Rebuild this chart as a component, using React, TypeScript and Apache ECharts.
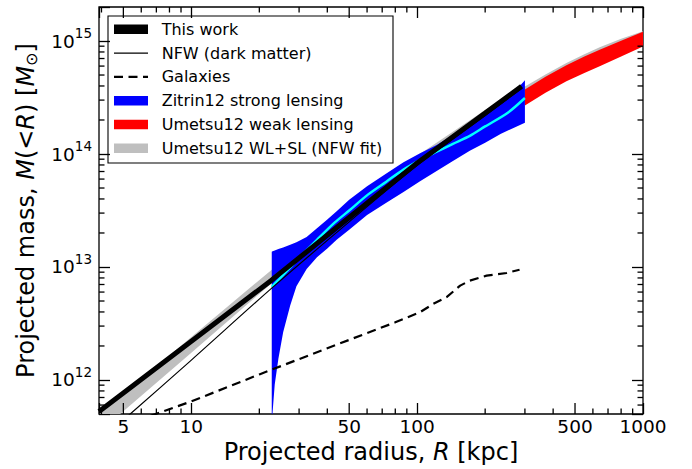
import React, { useEffect, useRef } from 'react';
import * as echarts from 'echarts';

const FONT = "'DejaVu Sans', 'Liberation Sans', sans-serif";

// Axis ranges
const xMin = 3.9;
const xMax = 1000;
const yMin = 5e11;
const yMax = 2e15;

// Tick values and labels (decade ticks are drawn by the axes themselves)
const xMajorTicks = [5, 10, 50, 100, 500, 1000];
const xTickLabels = ['5', '10', '50', '100', '500', '1000'];
const xExtraMajorTicks = [5, 50, 500];
const xMinorTicks = [4, 6, 7, 8, 9, 20, 30, 40, 60, 70, 80, 90, 200, 300, 400, 600, 700, 800, 900];
const yMajorTicks = [1e12, 1e13, 1e14, 1e15];
const yTickExponents = ['12', '13', '14', '15'];
const yMinorTicks = [
  6e11, 7e11, 8e11, 9e11,
  2e12, 3e12, 4e12, 5e12, 6e12, 7e12, 8e12, 9e12,
  2e13, 3e13, 4e13, 5e13, 6e13, 7e13, 8e13, 9e13,
  2e14, 3e14, 4e14, 5e14, 6e14, 7e14, 8e14, 9e14,
];

// "This work" (thick black)
const thisWorkR = [3.9, 5, 10, 22.5, 50, 100, 200, 290];
const thisWorkM = [5.25e11, 7.66e11, 2.2e12, 7.57e12, 2.74e13, 8.32e13, 2.3e14, 3.98e14];

// NFW (dark matter) thin line
const nfwR = [3.9, 5.36, 10, 22.5, 50, 100, 200, 290];
const nfwM = [2.86e11, 5.0e11, 1.5e12, 6.4e12, 2.51e13, 7.94e13, 2.19e14, 3.8e14];

// Galaxies (dashed)
const galR = [6.6, 10, 20, 40, 80, 103, 118, 135, 155, 171, 203, 249, 284];
const galM = [4.82e11, 6.46e11, 1.12e12, 1.91e12, 3.24e12, 3.98e12, 4.72e12, 5.41e12, 6.84e12, 7.57e12, 8.38e12, 8.85e12, 9.46e12];

// Zitrin12 strong lensing: band + central (cyan) curve
const blueR = [22.7, 22.9, 23.4, 24.3, 25.5, 27.4, 29.2, 32.4, 36, 40, 44, 50, 60, 73, 87, 103, 122, 144, 171, 200, 235, 270, 300];
const blueLo = [2e11, 5.2e11, 9.1e11, 1.55e12, 2.65e12, 4.57e12, 6.76e12, 9.6e12, 1.22e13, 1.46e13, 1.74e13, 2.14e13, 2.88e13, 3.7e13, 4.6e13, 5.75e13, 7.08e13, 8.67e13, 1.07e14, 1.26e14, 1.51e14, 1.72e14, 1.89e14];
const blueHi = [1.365e13, 1.38e13, 1.4e13, 1.445e13, 1.486e13, 1.57e13, 1.652e13, 1.84e13, 2.2e13, 2.63e13, 3.12e13, 3.93e13, 5.19e13, 6.71e13, 8.45e13, 1.014e14, 1.2e14, 1.476e14, 1.884e14, 2.31e14, 2.88e14, 3.55e14, 4.5e14];
const cyanR = [22.7, 25, 30.7, 36, 43.2, 50, 60.5, 73, 87, 103, 122, 144, 171, 200, 252, 300];
const cyanM = [6.68e12, 8.13e12, 1.26e13, 1.74e13, 2.48e13, 3.16e13, 4.37e13, 5.69e13, 7.28e13, 8.83e13, 1.047e14, 1.23e14, 1.445e14, 1.754e14, 2.32e14, 3.13e14];

// Umetsu12 weak lensing (red band)
const redR = [300, 370, 458, 550, 643, 800, 1000];
const redLo = [2.69e14, 3.48e14, 4.41e14, 5.22e14, 5.98e14, 7.31e14, 8.93e14];
const redHi = [3.72e14, 4.82e14, 6.11e14, 7.28e14, 8.39e14, 1.005e15, 1.21e15];

// Umetsu12 WL+SL NFW fit (grey band)
const greyR = [3.9, 5, 10, 22.5, 50, 100, 200, 300, 370, 458, 550, 643, 800, 1000];
const greyLo = [3.44e11, 5.3e11, 1.74e12, 7.08e12, 2.63e13, 7.85e13, 2.04e14, 3.29e14, 4.2e14, 5.32e14, 6.34e14, 7.31e14, 8.71e14, 1.014e15];
const greyHi = [4.97e11, 7.48e11, 2.4e12, 9.33e12, 3.31e13, 9.66e13, 2.45e14, 3.95e14, 5.05e14, 6.4e14, 7.62e14, 8.79e14, 1.047e15, 1.219e15];

// Legend
const legendLabels = [
  'This work',
  'NFW (dark matter)',
  'Galaxies',
  'Zitrin12 strong lensing',
  'Umetsu12 weak lensing',
  'Umetsu12 WL+SL (NFW fit)',
];
const legendKinds = ['rect', 'line', 'dash', 'rect', 'rect', 'rect'];
const legendColors = ['#000000', '#000000', '#000000', '#0000ff', '#ff0000', '#bfbfbf'];

// Layout (pixels)
const GRID = { left: 99, right: 49, top: 7, bottom: 54 };
const W = 692;
const H = 469;
const TW = 1.3; // tick thickness
const MAJ = 11;
const MIN = 5.5;

const pairs = (xs: number[], ys: number[]) => xs.map((x, i) => [x, ys[i]]);

function bandSeries(name: string, rs: number[], lo: number[], hi: number[], color: string, z: number) {
  return {
    type: 'custom',
    name,
    z,
    silent: true,
    clip: true,
    data: rs.map((r, i) => [r, lo[i], hi[i]]),
    encode: { x: 0, y: [1, 2] },
    renderItem: (params: any, api: any) => {
      if (params.dataIndex !== 0) return null;
      const top = rs.map((r, i) => api.coord([r, hi[i]]));
      const bot = rs.map((r, i) => api.coord([r, lo[i]])).reverse();
      const cs = params.coordSys;
      return {
        type: 'polygon',
        shape: { points: top.concat(bot) },
        style: { fill: color, stroke: null },
        clipPath: { type: 'rect', shape: { x: cs.x, y: cs.y, width: cs.width, height: cs.height } },
      };
    },
  };
}

// Non-decade tick marks (inward, mirrored on both sides), placed via the axes' scales
function tickSeries(isX: boolean) {
  const data = isX
    ? [...xExtraMajorTicks.map((v) => [v, yMin, 1]), ...xMinorTicks.map((v) => [v, yMin, 0])]
    : yMinorTicks.map((v) => [xMin, v, 0]);
  return {
    type: 'custom',
    name: isX ? 'xticks' : 'yticks',
    z: 20,
    silent: true,
    data,
    renderItem: (params: any, api: any) => {
      const cs = params.coordSys;
      const len = api.value(2) === 1 ? MAJ : MIN;
      const h = TW / 2;
      const children: any[] = [];
      if (isX) {
        const px = api.coord([api.value(0), yMin])[0];
        const b = cs.y + cs.height;
        const t = cs.y;
        children.push({ type: 'rect', shape: { x: px - h, y: b - len, width: TW, height: len }, style: { fill: '#000' } });
        children.push({ type: 'rect', shape: { x: px - h, y: t, width: TW, height: len }, style: { fill: '#000' } });
      } else {
        const py = api.coord([xMin, api.value(1)])[1];
        const l = cs.x;
        const r = cs.x + cs.width;
        children.push({ type: 'rect', shape: { x: l, y: py - h, width: len, height: TW }, style: { fill: '#000' } });
        children.push({ type: 'rect', shape: { x: r - len, y: py - h, width: len, height: TW }, style: { fill: '#000' } });
      }
      return { type: 'group', children };
    },
  };
}

function xLabelSeries() {
  return {
    type: 'custom',
    name: 'xlabels',
    z: 10,
    silent: true,
    data: xMajorTicks.map((v, i) => [v, yMin, i]),
    renderItem: (params: any, api: any) => {
      const cs = params.coordSys;
      const px = api.coord([api.value(0), yMin])[0];
      return {
        type: 'text',
        x: px,
        y: cs.y + cs.height + 12,
        style: {
          text: xTickLabels[api.value(2)],
          fontSize: 18.5,
          fontFamily: FONT,
          fill: '#000',
          align: 'center',
          verticalAlign: 'middle',
        },
      };
    },
  };
}

function yLabelSeries() {
  return {
    type: 'custom',
    name: 'ylabels',
    z: 10,
    silent: true,
    data: yMajorTicks.map((v, i) => [xMin, v, i]),
    renderItem: (params: any, api: any) => {
      const cs = params.coordSys;
      const py = api.coord([xMin, api.value(1)])[1];
      return {
        type: 'text',
        x: cs.x - 7,
        y: py,
        style: {
          text: '{b|10}{s|' + yTickExponents[api.value(2)] + '}',
          align: 'right',
          verticalAlign: 'middle',
          fill: '#000',
          fontFamily: FONT,
          fontSize: 18.5,
          rich: {
            b: { fontSize: 18.5, fontFamily: FONT, fill: '#000', lineHeight: 30 },
            s: { fontSize: 13.5, fontFamily: FONT, fill: '#000', lineHeight: 13, verticalAlign: 'top' },
          },
        },
      };
    },
  };
}

function legendGroup() {
  const legendRowY = [13.3, 37.1, 60.9, 84.7, 108.5, 132.3];
  const children: any[] = [
    {
      type: 'rect',
      shape: { x: 0, y: 0, width: 285, height: 147 },
      style: { fill: '#fff', stroke: '#000', lineWidth: 1.1 },
    },
  ];
  legendLabels.forEach((label, i) => {
    const cy = legendRowY[i];
    const kind = legendKinds[i];
    if (kind === 'rect') {
      children.push({
        type: 'rect',
        shape: { x: 6, y: cy - 4.7, width: 34, height: 9.4 },
        style: { fill: legendColors[i] },
      });
    } else {
      children.push({
        type: 'line',
        shape: { x1: 6, y1: cy, x2: 40, y2: cy },
        style: {
          stroke: legendColors[i],
          lineWidth: kind === 'dash' ? 2.2 : 1.2,
          lineDash: kind === 'dash' ? [9, 5.5] : null,
        },
      });
    }
    children.push({
      type: 'text',
      x: 53.7,
      y: cy,
      style: {
        text: label,
        fontSize: 16,
        fontFamily: FONT,
        fill: '#000',
        align: 'left',
        verticalAlign: 'middle',
      },
    });
  });
  return { id: 'legend', type: 'group', x: 108, y: 16, z: 50, children };
}

const nativeTick = { show: true, inside: true, length: MAJ, lineStyle: { color: '#000', width: TW } };

function buildOption() {
  const hiddenAxisBits = {
    axisLine: { show: false },
    axisLabel: { show: false },
    splitLine: { show: false },
    axisTick: nativeTick,
  };
  return {
    animation: false,
    backgroundColor: '#ffffff',
    grid: {
      ...GRID,
      show: true,
      borderColor: '#000',
      borderWidth: 1.3,
      backgroundColor: 'rgba(0,0,0,0)',
    },
    xAxis: [
      {
        type: 'log',
        logBase: 10,
        min: xMin,
        max: xMax,
        position: 'bottom',
        ...hiddenAxisBits,
        name: 'Projected radius, {i|R} [kpc]',
        nameLocation: 'middle',
        nameGap: 26,
        nameTextStyle: {
          fontSize: 24,
          fontFamily: FONT,
          color: '#000',
          rich: { i: { fontSize: 24, fontFamily: FONT, fontStyle: 'italic', color: '#000' } },
        },
      },
      { type: 'log', logBase: 10, min: xMin, max: xMax, position: 'top', ...hiddenAxisBits },
    ],
    yAxis: [
      {
        type: 'log',
        logBase: 10,
        min: yMin,
        max: yMax,
        position: 'left',
        ...hiddenAxisBits,
        name: 'Projected mass, {i|M}(<{i|R}) [{i|M}{sub|⊙}]',
        nameLocation: 'middle',
        nameGap: 60,
        nameTextStyle: {
          fontSize: 24,
          fontFamily: FONT,
          color: '#000',
          lineHeight: 26,
          rich: {
            i: { fontSize: 24, fontFamily: FONT, fontStyle: 'italic', color: '#000', lineHeight: 26 },
            sub: { fontSize: 16, fontFamily: FONT, color: '#000', lineHeight: 18, verticalAlign: 'bottom' },
          },
        },
      },
      { type: 'log', logBase: 10, min: yMin, max: yMax, position: 'right', ...hiddenAxisBits },
    ],
    graphic: [legendGroup()],
    series: [
      bandSeries('Umetsu12 WL+SL (NFW fit)', greyR, greyLo, greyHi, '#bfbfbf', 1),
      bandSeries('Umetsu12 weak lensing', redR, redLo, redHi, '#ff0000', 2),
      bandSeries('Zitrin12 strong lensing', blueR, blueLo, blueHi, '#0000ff', 3),
      {
        type: 'line',
        name: 'Zitrin12 best fit',
        z: 4,
        data: pairs(cyanR, cyanM),
        symbol: 'none',
        smooth: 0.3,
        lineStyle: { color: '#00ffff', width: 2.5 },
        silent: true,
      },
      {
        type: 'line',
        name: 'This work',
        z: 5,
        data: pairs(thisWorkR, thisWorkM),
        symbol: 'none',
        lineStyle: { color: '#000', width: 5 },
        silent: true,
      },
      {
        type: 'line',
        name: 'NFW (dark matter)',
        z: 6,
        data: pairs(nfwR, nfwM),
        symbol: 'none',
        smooth: 0.3,
        lineStyle: { color: '#000', width: 1.2 },
        silent: true,
      },
      {
        type: 'line',
        name: 'Galaxies',
        z: 6,
        data: pairs(galR, galM),
        symbol: 'none',
        lineStyle: { color: '#000', width: 2.2, type: [9, 5.5] },
        silent: true,
      },
      tickSeries(true),
      tickSeries(false),
      xLabelSeries(),
      yLabelSeries(),
    ],
  };
}

export default function App() {
  const ref = useRef<HTMLDivElement>(null);
  useEffect(() => {
    if (!ref.current) return;
    const chart = echarts.init(ref.current, null, { renderer: 'svg', width: W, height: H });
    chart.setOption(buildOption() as any);
    return () => {
      chart.dispose();
    };
  }, []);
  return (
    <div
      ref={ref}
      style={{ position: 'absolute', left: 0, top: 0, width: W, height: H, background: '#fff' }}
    />
  );
}
